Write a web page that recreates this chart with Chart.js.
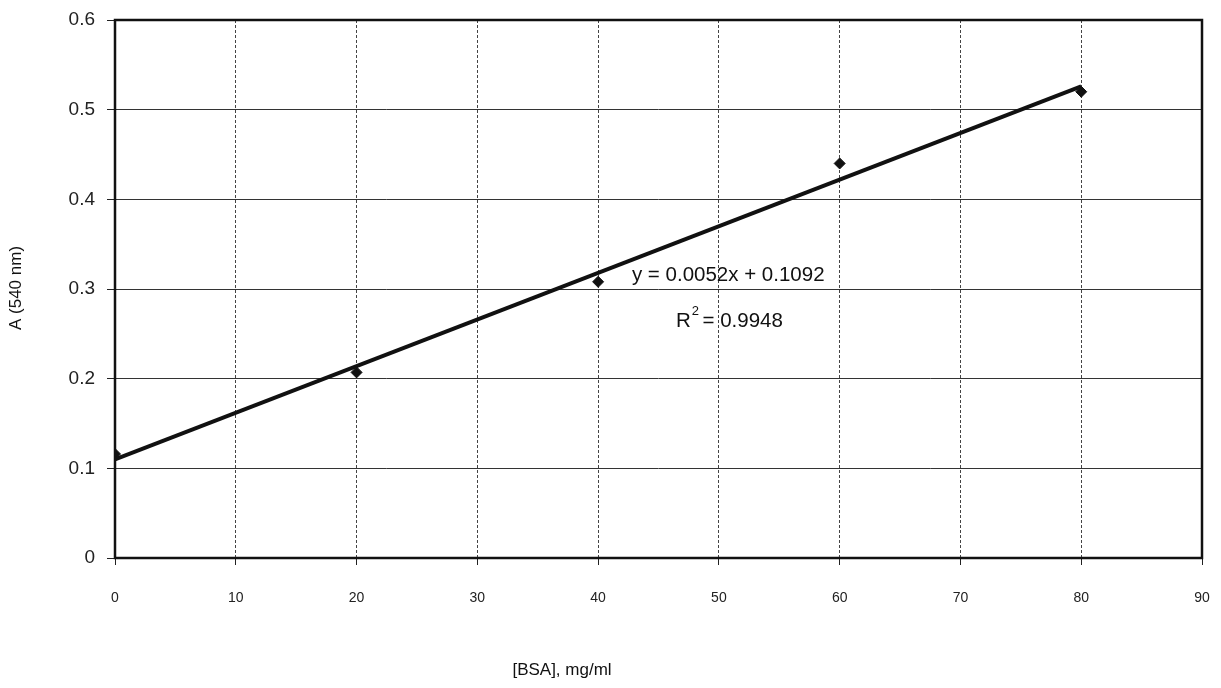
<!DOCTYPE html>
<html><head><meta charset="utf-8">
<script src="https://cdn.jsdelivr.net/npm/chart.js@4.4.0/dist/chart.umd.min.js"></script>
<style>html,body{margin:0;padding:0;background:#fff;}#wrap{width:1221px;height:688px;}</style>
</head><body><div id="wrap"><canvas id="c" width="1221" height="688"></canvas></div>
<script>
const concentrations = [0, 20, 40, 60, 80];
const absorbances = [0.116, 0.207, 0.308, 0.440, 0.520];
const trendX = [0, 80];
const trendY = [0.110, 0.526];
const xTicks = [0, 10, 20, 30, 40, 50, 60, 70, 80, 90];
const yTicks = [0, 0.1, 0.2, 0.3, 0.4, 0.5, 0.6];
const yTickLabels = ['0', '0.1', '0.2', '0.3', '0.4', '0.5', '0.6'];
const equationText = 'y = 0.0052x + 0.1092';
const r2Text = '0.9948';
const xTitle = '[BSA], mg/ml';
const yTitle = 'A (540 nm)';

const FONT = '"Liberation Sans", Arial, sans-serif';

const framePlugin = {
  id: 'frame',
  beforeDatasetsDraw(chart) {
    const {ctx, chartArea: a} = chart;
    ctx.save();
    ctx.strokeStyle = '#111';
    ctx.lineWidth = 2.5;
    ctx.strokeRect(a.left, a.top, a.right - a.left, a.bottom - a.top);
    ctx.restore();
  }
};

const textPlugin = {
  id: 'texts',
  afterDatasetsDraw(chart) {
    const {ctx} = chart;
    const xs = chart.scales.x, ys = chart.scales.y;
    ctx.save();
    ctx.fillStyle = '#111';
    ctx.textBaseline = 'middle';
    ctx.textAlign = 'left';
    ctx.font = '20.5px ' + FONT;
    ctx.fillText(equationText, xs.getPixelForValue(42.8), ys.getPixelForValue(0.3147));
    const rx = xs.getPixelForValue(46.45), ry = ys.getPixelForValue(0.2634);
    ctx.fillText('R', rx, ry);
    const rw = ctx.measureText('R').width;
    ctx.font = '13px ' + FONT;
    ctx.fillText('2', rx + rw + 1, ry - 10);
    ctx.font = '20.5px ' + FONT;
    ctx.fillText(' = ' + r2Text, rx + rw + 6, ry);
    ctx.font = '17px ' + FONT;
    ctx.textAlign = 'center';
    ctx.fillText(xTitle, 562, 670);
    ctx.translate(16, 288);
    ctx.rotate(-Math.PI / 2);
    ctx.fillText(yTitle, 0, 0);
    ctx.restore();
  }
};

new Chart(document.getElementById('c'), {
  type: 'scatter',
  data: {
    datasets: [
      {
        type: 'line',
        label: 'Linear fit',
        data: trendX.map((x, i) => ({x, y: trendY[i]})),
        borderColor: '#111',
        borderWidth: 4,
        pointRadius: 0,
        fill: false,
        order: 1
      },
      {
        label: 'A (540 nm)',
        data: concentrations.map((x, i) => ({x, y: absorbances[i]})),
        pointStyle: 'rectRot',
        pointRadius: 5.5,
        backgroundColor: '#111',
        borderColor: '#111',
        borderWidth: 1,
        order: 2
      }
    ]
  },
  options: {
    responsive: false,
    animation: false,
    devicePixelRatio: 1,
    layout: {padding: {left: 0, top: 20, right: 19, bottom: 0}},
    plugins: {legend: {display: false}, tooltip: {enabled: false}},
    scales: {
      x: {
        type: 'linear', min: 0, max: 90,
        afterBuildTicks(s) { s.ticks = xTicks.map(v => ({value: v})); },
        afterFit(s) { s.height = 130; s.paddingLeft = 0; s.paddingRight = 0; },
        ticks: {color: '#222', font: {family: FONT, size: 14}, padding: 25, maxRotation: 0, autoSkip: false,
          callback: (v) => String(v)},
        grid: {color: '#444', lineWidth: 1, tickLength: 7, tickColor: '#222'},
        border: {display: false, dash: [3, 2]}
      },
      y: {
        type: 'linear', min: 0, max: 0.6,
        afterBuildTicks(s) { s.ticks = yTicks.map(v => ({value: v})); },
        afterFit(s) { s.width = 115; s.paddingTop = 0; s.paddingBottom = 0; },
        ticks: {color: '#222', font: {family: FONT, size: 19}, padding: 12, autoSkip: false,
          callback: (v, i) => yTickLabels[i]},
        grid: {color: '#333', lineWidth: 1, tickLength: 8, tickColor: '#222'},
        border: {display: false}
      }
    }
  },
  plugins: [framePlugin, textPlugin]
});
</script></body></html>
